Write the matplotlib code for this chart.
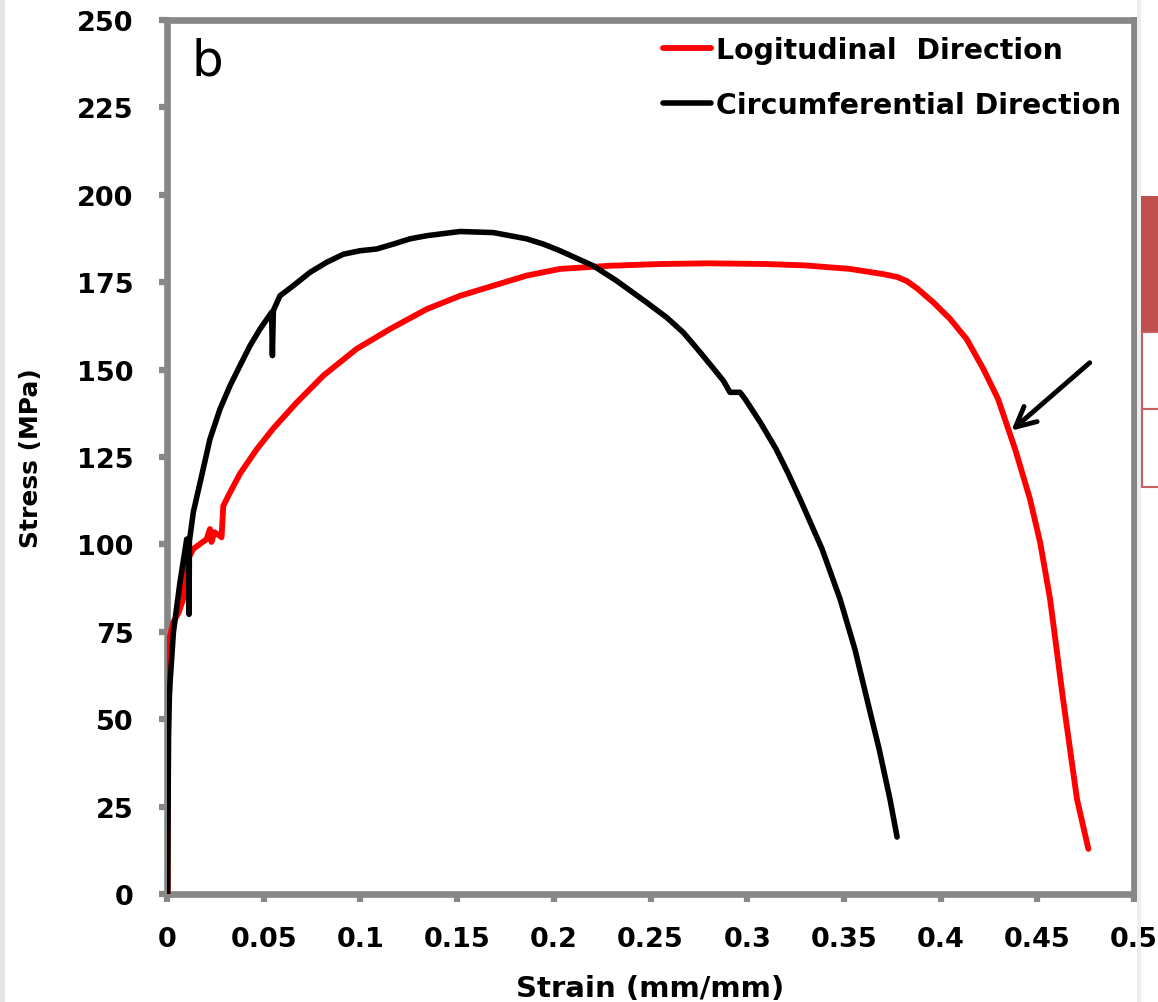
import matplotlib.pyplot as plt
from matplotlib.patches import Rectangle

# === DATA ===
circ_strain = [0.0003, 0.0005, 0.0008, 0.0012, 0.0016, 0.0033, 0.0067, 0.0102, 0.0110, 0.0114,
               0.0116, 0.0136, 0.0179, 0.0222, 0.0274, 0.0326, 0.0377, 0.0429, 0.0481, 0.0541,
               0.0545, 0.0550, 0.0584, 0.0653, 0.0739, 0.0826, 0.0912, 0.0998, 0.1084, 0.117,
               0.1256, 0.1343, 0.1515, 0.1687, 0.186, 0.1946, 0.2032, 0.2204, 0.2325, 0.248,
               0.2584, 0.267, 0.2756, 0.2842, 0.2877, 0.2911, 0.2963, 0.2989, 0.3069, 0.3149,
               0.3211, 0.3273, 0.3387, 0.348, 0.3557, 0.3619, 0.3682, 0.3738, 0.3775]
circ_stress = [0, 20, 45, 56, 60.6, 74.8, 89.1, 101.5, 101.5, 80,
               101, 109.2, 119.6, 130.1, 138.7, 145.4, 151.1, 156.8, 161.6, 166.4,
               154, 166.9, 171.1, 174, 177.8, 180.7, 183, 184, 184.5, 185.9,
               187.4, 188.3, 189.5, 189.2, 187.4, 185.9, 184, 179.7, 175.4, 169.2,
               164.9, 160.6, 155, 149.2, 146.8, 143.5, 143.5, 141.6, 134.8, 127.3,
               120.4, 113, 98.7, 84.4, 70, 55.8, 41.5, 27.2, 16.3]

long_strain = [0.0003, 0.0004, 0.0006, 0.0008, 0.0033, 0.006, 0.0084, 0.0093, 0.0115, 0.0136,
               0.0175, 0.0205, 0.0222, 0.0230, 0.0245, 0.0274, 0.0282, 0.0291, 0.0317, 0.0377,
               0.0464, 0.055, 0.0671, 0.0809, 0.098, 0.1153, 0.1343, 0.1515, 0.1687, 0.186,
               0.2032, 0.2291, 0.2549, 0.28, 0.31, 0.33, 0.3532, 0.3704, 0.3775, 0.3826,
               0.3877, 0.3963, 0.4049, 0.4135, 0.4221, 0.4297, 0.4385, 0.4462, 0.4515, 0.4566,
               0.4633, 0.4705, 0.4764]
long_stress = [0, 30, 60, 72, 77.8, 80.5, 84.4, 92, 96.5, 98.7,
               100.3, 101.5, 104.4, 100.7, 103.5, 102.4, 102, 111, 113.9, 120.2,
               127.2, 133.2, 140.6, 148.3, 155.9, 161.6, 167.3, 171.1, 174, 176.9,
               178.8, 179.7, 180.2, 180.4, 180.2, 179.8, 178.8, 177.3, 176.5, 175.3,
               173.3, 169.2, 164.5, 158.7, 150.2, 141.6, 127.3, 113, 100.5, 84.4,
               55.8, 27.2, 12.9]

x_ticks = [0, 0.05, 0.1, 0.15, 0.2, 0.25, 0.3, 0.35, 0.4, 0.45, 0.5]
x_labels = ['0', '0.05', '0.1', '0.15', '0.2', '0.25', '0.3', '0.35', '0.4', '0.45', '0.5']
y_ticks = [0, 25, 50, 75, 100, 125, 150, 175, 200, 225, 250]

W, H = 1158, 1003
GREY = '#878787'

plt.rcParams['font.family'] = ['DejaVu Sans']
plt.rcParams['font.weight'] = 'bold'

fig = plt.figure(figsize=(W / 100, H / 100), dpi=100)
fig.patch.set_facecolor('white')

# light strip at the left edge + table fragment at the right edge
fig.patches.append(Rectangle((0, 0), 5 / W, 1, transform=fig.transFigure,
                             facecolor='#e4e4e4', edgecolor='none'))
fig.patches.append(Rectangle((1137 / W, 0), 4 / W, 1, transform=fig.transFigure,
                             facecolor='#eeeeee', edgecolor='none'))
fig.patches.append(Rectangle((1141 / W, 1 - 333 / H), 20 / W, 136 / H, transform=fig.transFigure,
                             facecolor='#C0504D', edgecolor='none'))
for top, bot in [(333, 410), (410, 488)]:
    fig.patches.append(Rectangle((1142 / W, 1 - bot / H), 20 / W, (bot - top) / H,
                                 transform=fig.transFigure, facecolor='white',
                                 edgecolor='#C9605D', linewidth=1.5))

ax = fig.add_axes([167 / W, 108 / H, 967 / W, 874 / H])

ax.plot(long_strain, long_stress, color='red', lw=4.2, label='Logitudinal  Direction',
        solid_capstyle='round', solid_joinstyle='round', zorder=3)
ax.plot(circ_strain, circ_stress, color='black', lw=4.0, label='Circumferential Direction',
        solid_capstyle='round', solid_joinstyle='round', zorder=3)

ax.set_xlim(0, 0.5)
ax.set_ylim(0, 250)
ax.set_xticks(x_ticks)
ax.set_xticklabels(x_labels)
ax.set_yticks(y_ticks)

for sp in ax.spines.values():
    sp.set_color(GREY)
    sp.set_linewidth(4.8)

ax.tick_params(axis='both', direction='out', length=6, width=4.5, color=GREY,
               labelsize=19.5, labelcolor='black')
ax.tick_params(axis='y', pad=18)
ax.tick_params(axis='x', pad=17)

ax.set_xlabel('Strain (mm/mm)', fontsize=21, fontweight='bold')
ax.set_ylabel('Stress (MPa)', fontsize=18, fontweight='bold')
ax.xaxis.set_label_coords(0.5, -0.092)
ax.yaxis.set_label_coords(-0.128, 0.5)

ax.text(0.021, 238.5, 'b', fontsize=36, fontweight='normal', ha='center', va='center')

ax.annotate('', xy=(0.4355, 132.0), xytext=(0.4782, 152.5),
            arrowprops=dict(arrowstyle='->', lw=3.5, color='black', mutation_scale=36))

leg = ax.legend(loc='upper left', bbox_to_anchor=(663 / W, 1 - 37 / H),
                bbox_transform=fig.transFigure, frameon=False, fontsize=20.4,
                handlelength=1.7, handletextpad=0.18, borderpad=0, borderaxespad=0,
                labelspacing=0.95)
for t in leg.get_texts():
    t.set_fontweight('bold')

fig.savefig('out.png', dpi=100)
